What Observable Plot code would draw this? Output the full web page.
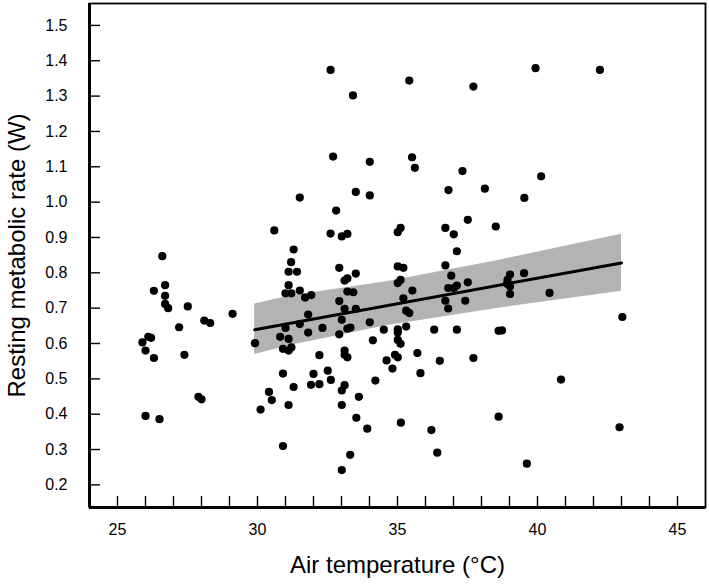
<!DOCTYPE html>
<html>
<head>
<meta charset="utf-8">
<script src="https://cdn.jsdelivr.net/npm/d3@7"></script>
<script src="https://cdn.jsdelivr.net/npm/@observablehq/plot@0.6"></script>
<style>
  html, body { margin: 0; padding: 0; background: #fff; }
  #chart svg { display: block; }
</style>
</head>
<body>
<div id="chart"></div>
<script>
// Air temperature (°C) and resting metabolic rate (W) of each point
const temperature = [
  26.60, 26.70, 26.30, 26.70, 26.70, 26.81, 27.51, 29.11, 28.10, 28.31, 27.20, 26.10, 26.20, 25.89, 26.00, 26.30, 27.39, 29.91, 27.89, 28.00, 26.00, 26.50,
  30.60, 31.29, 31.20, 31.11, 31.41, 31.11, 31.00, 31.21, 31.51, 31.70, 31.92, 31.51, 31.00, 30.81, 31.11, 30.91, 31.11, 31.21, 30.91, 31.29, 30.41, 30.51, 30.11, 31.11, 30.91, 31.81, 31.51, 31.81, 32.21,
  32.61, 33.41, 32.70, 34.01, 33.51, 34.01, 32.81, 32.61, 33.01, 33.21, 32.92, 33.11, 33.21, 33.51, 33.21, 33.42, 32.92, 33.11, 33.51, 33.01, 32.32, 32.92, 33.21, 33.32, 34.01, 33.11, 33.11, 33.21, 32.00, 32.51, 32.62, 31.91, 32.21, 33.11, 33.01, 34.21, 33.62, 33.01, 33.53, 33.92, 33.31, 33.01,
  35.42, 35.52, 35.62, 35.01, 35.11, 35.01, 35.21, 35.01, 35.11, 35.53, 35.21, 35.31, 35.42, 35.31, 35.01, 35.01, 34.51, 34.12, 35.01, 35.11, 34.61, 34.82, 34.91, 35.01, 35.71, 35.82, 35.12,
  37.71, 37.32, 36.82, 38.12, 36.71, 37.01, 37.51, 38.51, 37.12, 36.71, 36.92, 36.81, 37.12, 37.01, 37.51, 36.71, 36.81, 37.42, 36.31, 37.12, 38.61, 36.51, 37.71, 36.21, 36.42, 38.61,
  39.93, 42.23, 40.13, 39.53, 39.02, 39.52, 38.93, 38.91, 39.02, 39.02, 40.43, 38.73, 43.03, 40.84, 42.93, 39.62
];
const metabolicRate = [
  0.847, 0.765, 0.749, 0.735, 0.712, 0.700, 0.705, 0.684, 0.665, 0.658, 0.646, 0.619, 0.616, 0.603, 0.580, 0.559, 0.568, 0.601, 0.449, 0.442, 0.395, 0.386,
  0.920, 0.866, 0.830, 0.803, 0.803, 0.765, 0.742, 0.742, 0.750, 0.730, 0.737, 1.013, 0.644, 0.619, 0.613, 0.585, 0.580, 0.589, 0.515, 0.477, 0.463, 0.440, 0.413, 0.426, 0.310, 0.682, 0.655, 0.631, 0.567,
  1.374, 1.302, 1.129, 1.114, 1.029, 1.019, 0.976, 0.911, 0.903, 0.910, 0.814, 0.778, 0.784, 0.798, 0.747, 0.745, 0.720, 0.698, 0.698, 0.667, 0.644, 0.626, 0.642, 0.645, 0.660, 0.580, 0.568, 0.561, 0.514, 0.523, 0.497, 0.483, 0.485, 0.482, 0.467, 0.495, 0.449, 0.426, 0.390, 0.359, 0.285, 0.242,
  1.344, 1.127, 1.097, 0.915, 0.927, 0.818, 0.814, 0.771, 0.780, 0.750, 0.728, 0.693, 0.686, 0.648, 0.640, 0.631, 0.639, 0.609, 0.610, 0.599, 0.552, 0.529, 0.568, 0.561, 0.573, 0.516, 0.376,
  1.327, 1.088, 1.034, 1.038, 0.927, 0.909, 0.950, 0.931, 0.861, 0.821, 0.792, 0.757, 0.764, 0.757, 0.773, 0.721, 0.699, 0.721, 0.639, 0.639, 0.636, 0.551, 0.559, 0.355, 0.291, 0.393,
  1.379, 1.374, 1.073, 1.012, 0.795, 0.799, 0.780, 0.769, 0.761, 0.740, 0.743, 0.637, 0.675, 0.498, 0.363, 0.260
];

// Fitted regression line (endpoints)
const fitTemp = [29.9, 43.0];
const fitRate = [0.639, 0.828];

// Confidence band
const bandTemp  = [29.9, 31.2, 34.6, 38.6, 43.0];
const bandLower = [0.569, 0.595, 0.650, 0.700, 0.748];
const bandUpper = [0.712, 0.735, 0.775, 0.835, 0.909];

// Axis ticks
const xTicks = [25, 26, 27, 28, 29, 30, 31, 32, 33, 34, 35, 36, 37, 38, 39, 40, 41, 42, 43, 44, 45];
const xTickLabels = [25, 30, 35, 40, 45];
const yTicks = [0.2, 0.3, 0.4, 0.5, 0.6, 0.7, 0.8, 0.9, 1.0, 1.1, 1.2, 1.3, 1.4, 1.5];

const xTitle = "Air temperature (°C)";
const yTitle = "Resting metabolic rate (W)";

const points = temperature.map((t, i) => ({t, r: metabolicRate[i]}));
const fit = fitTemp.map((t, i) => ({t, r: fitRate[i]}));
const band = bandTemp.map((t, i) => ({t, lo: bandLower[i], hi: bandUpper[i]}));

const W = 709, H = 587;
const mL = 89, mR = 4, mT = 3, mB = 80;
const plotW = W - mL - mR, plotH = H - mT - mB;

const chart = Plot.plot({
  width: W,
  height: H,
  marginLeft: mL,
  marginRight: mR,
  marginTop: mT,
  marginBottom: mB,
  style: {fontFamily: "'Liberation Sans', Arial, sans-serif", color: "#000", background: "#fff"},
  x: {domain: [24, 46]},
  y: {domain: [0.136, 1.562]},
  marks: [
    Plot.areaY(band, {x: "t", y1: "lo", y2: "hi", fill: "#b3b3b3", curve: "linear"}),
    Plot.dot(points, {x: "t", y: "r", r: 4.1, fill: "#000", stroke: "none"}),
    Plot.line(fit, {x: "t", y: "r", stroke: "#000", strokeWidth: 3}),
    Plot.tickX(xTicks, {x: d => d, stroke: "#000", strokeWidth: 1.4, insetTop: plotH - 11}),
    Plot.tickY(yTicks, {y: d => d, stroke: "#000", strokeWidth: 1.4, insetRight: plotW - 11}),
    Plot.axisX(xTickLabels, {tickSize: 0, tickPadding: 16, fontSize: 16, label: null, tickFormat: d => String(d)}),
    Plot.axisY(yTicks, {tickSize: 0, tickPadding: 22, fontSize: 16, label: null, tickFormat: d => d.toFixed(1)}),
    Plot.frame({stroke: "#000", strokeWidth: 1.8}),
    Plot.ruleX([24], {stroke: "#000", strokeWidth: 3}),
    Plot.ruleY([0.136], {stroke: "#000", strokeWidth: 3}),
    Plot.text([xTitle], {frameAnchor: "bottom", dy: 58, fontSize: 24, lineAnchor: "middle", textAnchor: "middle", fill: "#000"}),
    Plot.text([yTitle], {frameAnchor: "left", dx: -72, rotate: -90, fontSize: 24, lineAnchor: "middle", textAnchor: "middle", fill: "#000"})
  ]
});
document.getElementById("chart").appendChild(chart);
</script>
</body>
</html>
